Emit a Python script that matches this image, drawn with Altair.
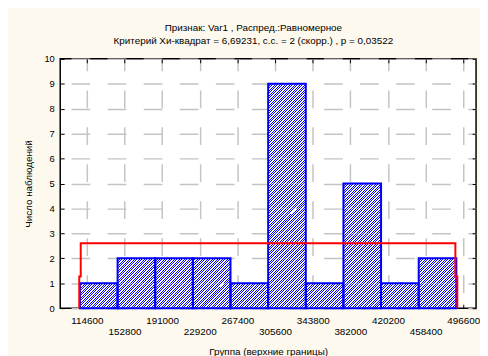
import altair as alt
import pandas as pd

# ---- data ----
edges = [114600, 152800, 191000, 229200, 267400, 305600, 343800, 382000, 420200, 458400, 496600]
counts = [1, 2, 2, 2, 1, 9, 1, 5, 1, 2]
curve_x = [113900, 113900, 115400, 115400, 495600, 495600, 497600, 497600]
curve_y = [0, 1.27, 1.27, 2.6, 2.6, 1.27, 1.27, 0]
y_ticks = [0, 1, 2, 3, 4, 5, 6, 7, 8, 9, 10]
title_lines = ["Признак: Var1 , Распред.:Равномерное",
               "Критерий Хи-квадрат = 6,69231, с.с. = 2 (скорр.) , p = 0,03522"]
x_title = "Группа (верхние границы)"
y_title = "Число наблюдений"

# ---- tables built from the arrays ----
cells = pd.DataFrame([
    {"x0": edges[i], "x1": edges[i + 1], "y0": j, "y1": j + 1}
    for i, c in enumerate(counts) for j in range(c)
])
bars = pd.DataFrame({"x0": edges[:-1], "x1": edges[1:], "c": counts})
curve = pd.DataFrame({"x": curve_x, "y": curve_y, "i": list(range(len(curve_x)))})

# ---- style ----
FONT = "Liberation Sans"
BLUE = "#0000ff"
W, H = 422, 253
XDOM = [94600, 516600]
cell_w, cell_h = 38.2, 25.3
period = cell_h / 10.0          # stripe period measured along x+y
n_str, frac = 26, 0.40
k = n_str * period / (cell_w ** 2 + cell_h ** 2)
stops = []
for i in range(n_str):
    a, b, c2 = i / n_str, (i + frac) / n_str, (i + 1) / n_str
    stops += [alt.GradientStop(color=BLUE, offset=round(a, 5)),
              alt.GradientStop(color=BLUE, offset=round(b, 5)),
              alt.GradientStop(color="white", offset=round(b, 5)),
              alt.GradientStop(color="white", offset=round(c2, 5))]
hatch = alt.LinearGradient(gradient="linear", stops=stops,
                           x1=0, y1=0, x2=round(k * cell_w, 4), y2=round(k * cell_h, 4))

xs = alt.Scale(domain=XDOM, nice=False, zero=False)
ys = alt.Scale(domain=[0, 10], nice=False, zero=False)

odd_expr = "(round((datum.value - 114600) / 38200) % 2 == 1) ? ['', datum.label] : datum.label"

main_x = alt.Axis(values=edges, format="d", tickOffset=7, ticks=False, domain=False,
                  grid=True, gridColor="#c4c4c4", gridWidth=1.5, gridDash=[18, 19.5], gridDashOffset=6,
                  labelExpr=odd_expr, labelFont=FONT, labelFontSize=10, labelColor="black",
                  labelPadding=8, labelLineHeight=11, labelBaseline="top",
                  labelOverlap=False, labelFlush=False, labelBound=False,
                  title=x_title, titleFont=FONT, titleFontSize=10, titleFontWeight="normal",
                  titleColor="black", titlePadding=10, orient="bottom")
main_y = alt.Axis(values=y_ticks, format="d", ticks=False, domain=False,
                  grid=True, gridColor="#c4c4c4", gridWidth=1.5, gridDash=[19, 17.6], gridDashOffset=25.6,
                  labelFont=FONT, labelFontSize=9.5, labelColor="black", labelPadding=6,
                  labelOverlap=False, labelFlush=False,
                  title=y_title, titleFont=FONT, titleFontSize=10, titleFontWeight="normal",
                  titleColor="black", titlePadding=11, orient="left")


def tick_axis(orient, vals, toff=0):
    return alt.Axis(orient=orient, values=vals, offset=-4, tickOffset=toff, ticks=True, tickSize=4,
                    tickColor="black", tickWidth=1, labels=False, domain=False, grid=False, title="")


layer_cells = alt.Chart(cells).mark_rect(fill=hatch, strokeWidth=0).encode(
    x=alt.X("x0:Q", scale=xs, axis=main_x),
    x2="x1:Q",
    y=alt.Y("y0:Q", scale=ys, axis=main_y),
    y2="y1:Q",
)

layer_bars = alt.Chart(bars).mark_rect(fillOpacity=0, stroke=BLUE, strokeWidth=2).encode(
    x=alt.X("x0:Q", scale=xs, axis=tick_axis("bottom", edges, 7)),
    x2="x1:Q",
    y=alt.Y("c:Q", scale=ys, axis=tick_axis("left", y_ticks)),
    y2=alt.datum(0),
)

layer_curve = alt.Chart(curve).mark_line(color="#ff0000", strokeWidth=2).encode(
    x=alt.X("x:Q", scale=xs, axis=tick_axis("top", edges, 7)),
    y=alt.Y("y:Q", scale=ys, axis=tick_axis("right", y_ticks)),
    order="i:Q",
)

chart = alt.layer(layer_cells, layer_bars, layer_curve).resolve_scale(
    x="independent", y="independent"
).properties(
    width=W, height=H,
    autosize=alt.AutoSizeParams(type="none"),
    padding={"left": 53, "top": 49, "right": 4, "bottom": 50},
    background="#fdf9ee",
    title=alt.TitleParams(text=title_lines, font=FONT, fontSize=10, fontWeight="normal",
                          color="black", anchor="middle", dx=-15, offset=8, lineHeight=13),
).configure_view(stroke="black", strokeWidth=1.5, fill="white")

chart.save("out.html", embed_options={"renderer": "svg", "actions": False})
